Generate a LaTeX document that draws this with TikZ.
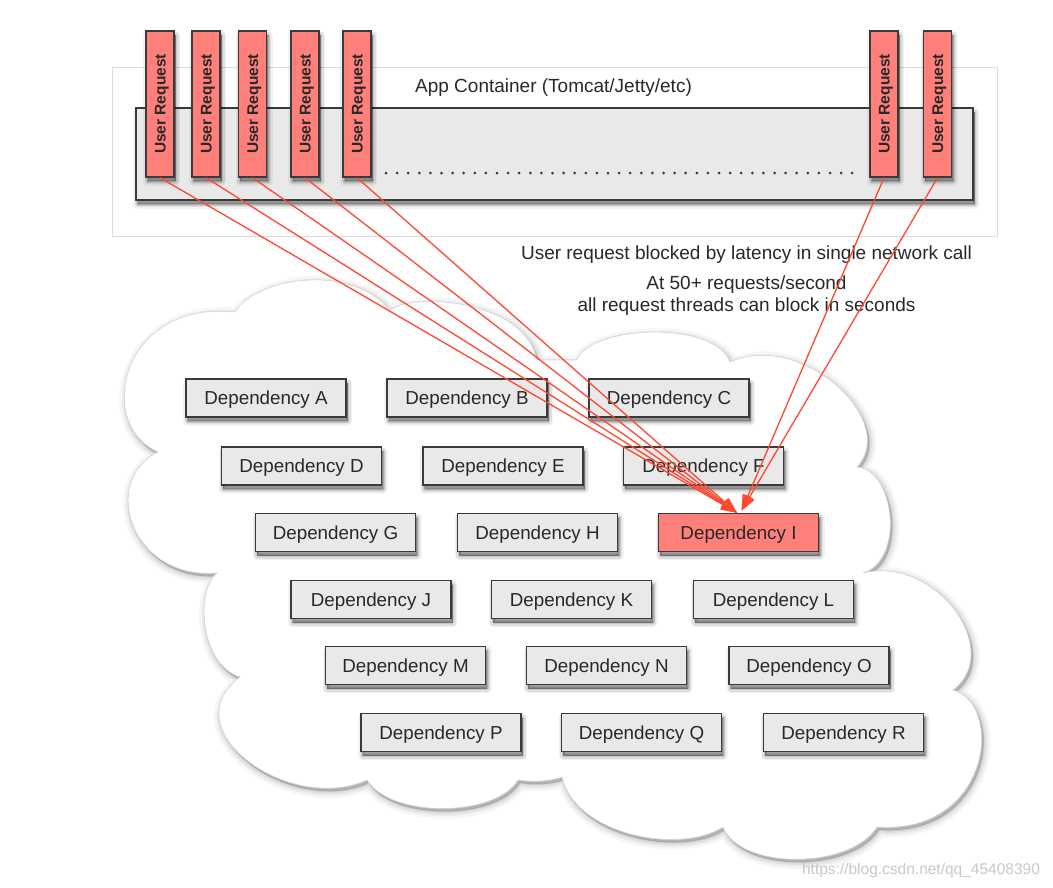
\documentclass[tikz,border=0pt]{standalone}
\usepackage{fontspec}
\usepackage{graphicx}
\setmainfont{Liberation Sans}
\usetikzlibrary{arrows.meta,calc}
\definecolor{salmon}{RGB}{255,128,122}
\definecolor{boxgray}{RGB}{233,233,233}
\definecolor{edge}{RGB}{58,58,58}
\definecolor{reqred}{RGB}{255,72,48}
\definecolor{txt}{RGB}{40,40,40}
\definecolor{outerline}{RGB}{220,220,220}
\definecolor{cloudline}{RGB}{210,210,210}
\definecolor{wm}{RGB}{200,200,200}
\begin{document}
\begin{tikzpicture}[x=1pt,y=-1pt,
  shlayer/.style n args={2}{preaction={draw=black,fill=black,draw opacity=#2,fill opacity=#2,line width=#1,line join=round,transform canvas={shift={(1.5pt,-4pt)}}}},
  boxshadow/.style={shlayer={9pt}{.05},shlayer={6pt}{.08},shlayer={3pt}{.1},shlayer={0.5pt}{.14}},
  cloudshadow/.style={preaction={draw=black,fill=black,draw opacity=.035,fill opacity=.035,line width=14pt,line join=round,transform canvas={shift={(2pt,-3pt)}}},
                      preaction={draw=black,fill=black,draw opacity=.045,fill opacity=.045,line width=9pt,line join=round,transform canvas={shift={(2pt,-3pt)}}},
                      preaction={draw=black,fill=black,draw opacity=.055,fill opacity=.055,line width=5pt,line join=round,transform canvas={shift={(2pt,-3pt)}}},
                      preaction={draw=black,fill=black,draw opacity=.065,fill opacity=.065,line width=1.5pt,line join=round,transform canvas={shift={(2pt,-3pt)}}}},
  depbox/.style={boxshadow,draw=edge,line width=1.4pt,fill=boxgray,minimum width=160pt,minimum height=38pt,inner sep=0pt,text height=13.4pt,text depth=0pt,font=\fontsize{18.8}{20}\selectfont,text=txt},
  hot/.style={fill=salmon},
  ureq/.style={boxshadow,draw=edge,line width=1.4pt,fill=salmon,minimum width=28pt,minimum height=146pt,inner sep=0pt,font=\bfseries\fontsize{15.5}{17}\selectfont,text=txt},
  capt/.style={font=\fontsize{19}{21}\selectfont,text=txt,inner sep=0pt,anchor=base},
  req/.style={draw=reqred,line width=1.3pt,-{Triangle[length=16pt,width=11pt]}},
]
\path[fill=white] (0,0) rectangle (1053,887);
\useasboundingbox (0,0) rectangle (1053,887);

% app container
\draw[outerline,line width=0.8pt] (112,67) rectangle (997,236);
\draw[boxshadow,edge,line width=1.4pt,fill=boxgray] (136,108) rectangle (973,200);
\node[capt] (title) at (553.5,92) {App Container (Tomcat/Jetty/etc)};
\draw[edge,line width=3pt,line cap=round,dash pattern=on 0pt off 11.1pt] (386,173) -- (853,173);

\foreach \x/\n in {160/u1,206/u2,252.5/u3,305/u4,357/u5,884/u6,937.5/u7}
  \node[ureq] (\n) at (\x,104) {\rotatebox{90}{\raisebox{0pt}[11pt][0pt]{User Request}}};

% texts
\node[capt] (t1) at (746.5,259) {User request blocked by latency in single network call};
\node[capt] (t2) at (746.5,289) {At 50+ requests/second};
\node[capt] (t3) at (746.5,311) {all request threads can block in seconds};

% cloud
\draw[cloudshadow,cloudline,line width=0.6pt,fill=white]
  (235,312) .. controls (255,278) and (350,262) .. (390,310)
  .. controls (415,292) and (525,300) .. (537,360)
  -- (577,360)
  .. controls (590,325) and (715,320) .. (730,362)
  .. controls (800,330) and (900,420) .. (857,467)
  .. controls (895,470) and (905,560) .. (863,573)
  .. controls (935,555) and (1005,650) .. (953,690)
  .. controls (1005,705) and (990,835) .. (877,827)
  .. controls (850,870) and (740,870) .. (723,827)
  .. controls (680,855) and (575,835) .. (562,777)
  .. controls (548,782) and (532,782) .. (518,780)
  .. controls (495,818) and (390,818) .. (367,780)
  .. controls (290,815) and (170,730) .. (240,677)
  .. controls (200,665) and (195,590) .. (217,573)
  .. controls (130,580) and (100,480) .. (158,452)
  .. controls (95,425) and (120,300) .. (235,312) -- cycle;

% dependencies
\node[depbox] (dA) at (266,398) {Dependency A};
\node[depbox] (dB) at (467,398) {Dependency B};
\node[depbox] (dC) at (669,398) {Dependency C};
\node[depbox] (dD) at (301.5,466) {Dependency D};
\node[depbox] (dE) at (503,466) {Dependency E};
\node[depbox] (dF) at (703.5,466) {Dependency F};
\node[depbox] (dG) at (335.5,532.5) {Dependency G};
\node[depbox] (dH) at (537.5,532.5) {Dependency H};
\node[depbox,hot] (dI) at (738.5,532.5) {Dependency I};
\node[depbox] (dJ) at (371,599.5) {Dependency J};
\node[depbox] (dK) at (571.5,599.5) {Dependency K};
\node[depbox] (dL) at (773.5,599.5) {Dependency L};
\node[depbox] (dM) at (405.5,665.5) {Dependency M};
\node[depbox] (dN) at (606.5,665.5) {Dependency N};
\node[depbox] (dO) at (809,665.5) {Dependency O};
\node[depbox] (dP) at (441,732.5) {Dependency P};
\node[depbox] (dQ) at (641.5,732.5) {Dependency Q};
\node[depbox] (dR) at (843.5,732.5) {Dependency R};

% request arrows
\coordinate (tipL) at ($(dI.north)+(-1.5,0)$);
\coordinate (tipR) at ($(dI.north)+(3,-2)$);
\foreach \n in {u1,u2,u3,u4,u5}
  \draw[req] (\n.south) -- (tipL);
\foreach \n in {u6,u7}
  \draw[req] (\n.south) -- (tipR);

% watermark
\node[font=\fontsize{15.5}{17}\selectfont,text=wm,inner sep=0pt,anchor=base] (wmark) at (921,874) {https://blog.csdn.net/qq\_45408390};
\end{tikzpicture}
\end{document}
